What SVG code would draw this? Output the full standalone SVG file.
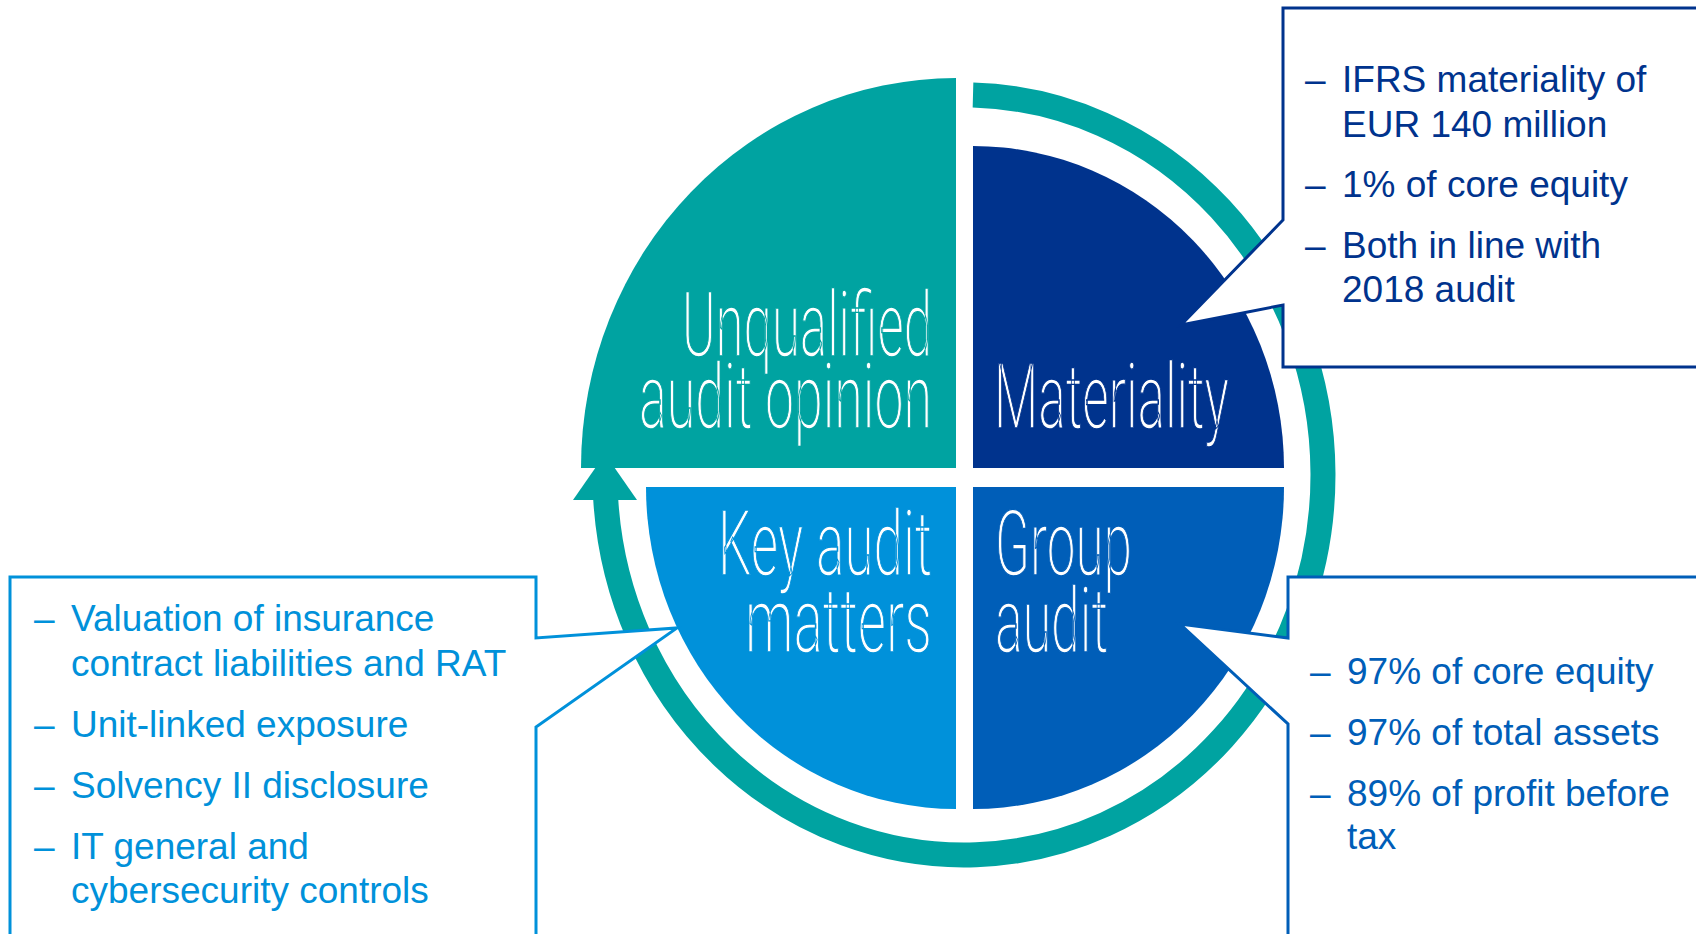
<svg xmlns="http://www.w3.org/2000/svg" width="1696" height="934" viewBox="0 0 1696 934">
  <style>
    .lbl { font-family: Roboto, "Open Sans", "DejaVu Sans", sans-serif; font-weight: 300; font-size: 90px; fill: #ffffff; stroke-width: 1.3px; }
    .teal-bg { stroke: #00A3A1; }
    .navy-bg { stroke: #00338D; }
    .mid-bg { stroke: #005EB8; }
    .light-bg { stroke: #0091DA; }
    .txt { font-family: "Liberation Sans", Arial, sans-serif; font-size: 37px; }
    .navy { fill: #00338D; }
    .mid { fill: #005EB8; }
    .light { fill: #0091DA; }
    .callout { fill: #ffffff; stroke-width: 3; stroke-linejoin: miter; }
  </style>
  <rect x="0" y="0" width="1696" height="934" fill="#ffffff"/>

  <g id="connectors">
    <path d="M973,95.1 A359,380 0 1 1 605.7,499" fill="none" stroke="#00A3A1" stroke-width="25"/>
    <polygon points="605,454 573,500 637,500" fill="#00A3A1"/>
  </g>

  <g id="node-unqualified">
    <path d="M956,468 L581,468 A375,390 0 0 1 956,78 Z" fill="#00A3A1"/>
    <text class="lbl teal-bg" x="682" y="356" textLength="250" lengthAdjust="spacingAndGlyphs">Unqualified</text>
    <text class="lbl teal-bg" x="639" y="428" textLength="293" lengthAdjust="spacingAndGlyphs">audit opinion</text>
  </g>

  <g id="node-materiality">
    <path d="M973,468 L973,146 A311,322 0 0 1 1284,468 Z" fill="#00338D"/>
    <text class="lbl navy-bg" x="994" y="428" textLength="235" lengthAdjust="spacingAndGlyphs">Materiality</text>
  </g>

  <g id="node-group-audit">
    <path d="M973,487 L1284,487 A311,322 0 0 1 973,809 Z" fill="#005EB8"/>
    <text class="lbl mid-bg" x="995" y="575" textLength="137" lengthAdjust="spacingAndGlyphs">Group</text>
    <text class="lbl mid-bg" x="995" y="652" textLength="113" lengthAdjust="spacingAndGlyphs">audit</text>
  </g>

  <g id="node-key-audit-matters">
    <path d="M956,487 L956,809 A310,322 0 0 1 646,487 Z" fill="#0091DA"/>
    <text class="lbl light-bg" x="718" y="575" textLength="214" lengthAdjust="spacingAndGlyphs">Key audit</text>
    <text class="lbl light-bg" x="745" y="652" textLength="187" lengthAdjust="spacingAndGlyphs">matters</text>
  </g>

  <g id="callout-materiality">
    <polygon class="callout" stroke="#00338D" points="1283,8 1702,8 1702,367 1283,367 1283,305 1181,325 1283,220"/>
    <g class="txt navy">
      <text x="1305" y="92">–</text><text x="1342" y="92">IFRS materiality of</text>
      <text x="1342" y="137">EUR 140 million</text>
      <text x="1305" y="197">–</text><text x="1342" y="197">1% of core equity</text>
      <text x="1305" y="258">–</text><text x="1342" y="258">Both in line with</text>
      <text x="1342" y="302">2018 audit</text>
    </g>
  </g>

  <g id="callout-key-audit-matters">
    <polygon class="callout" stroke="#0091DA" points="10,577 536,577 536,638 677,628 536,727 536,940 10,940"/>
    <g class="txt light">
      <text x="34" y="631">–</text><text x="71" y="631">Valuation of insurance</text>
      <text x="71" y="676">contract liabilities and RAT</text>
      <text x="34" y="737">–</text><text x="71" y="737">Unit-linked exposure</text>
      <text x="34" y="798">–</text><text x="71" y="798">Solvency II disclosure</text>
      <text x="34" y="859">–</text><text x="71" y="859">IT general and</text>
      <text x="71" y="903">cybersecurity controls</text>
    </g>
  </g>

  <g id="callout-group-audit">
    <polygon class="callout" stroke="#005EB8" points="1288,577 1702,577 1702,940 1288,940 1288,724 1180,624 1288,638"/>
    <g class="txt mid">
      <text x="1310" y="684">–</text><text x="1347" y="684">97% of core equity</text>
      <text x="1310" y="745">–</text><text x="1347" y="745">97% of total assets</text>
      <text x="1310" y="806">–</text><text x="1347" y="806">89% of profit before</text>
      <text x="1347" y="849">tax</text>
    </g>
  </g>
</svg>
